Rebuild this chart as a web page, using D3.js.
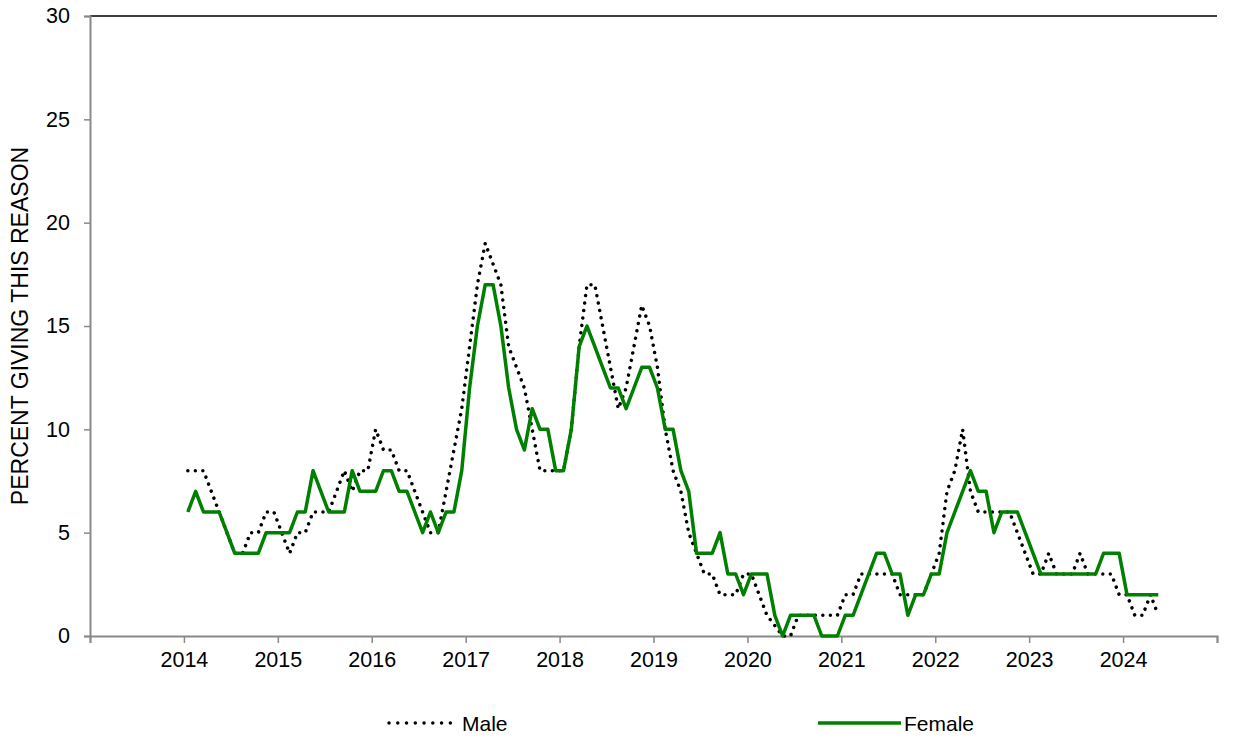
<!DOCTYPE html>
<html>
<head>
<meta charset="utf-8">
<script src="https://cdn.jsdelivr.net/npm/d3@7"></script>
<style>
  html, body { margin: 0; padding: 0; background: #fff; }
  svg { display: block; font-family: "Liberation Sans", Arial, sans-serif; }
</style>
</head>
<body>
<svg id="chart" width="1246" height="742"></svg>
<script>
// ---- data (monthly, Jan 2014 .. May 2024) ----
const startYear = 2014;
const yearTicks = [2013, 2014, 2015, 2016, 2017, 2018, 2019, 2020, 2021, 2022, 2023, 2024, 2025];
const yearLabels = ["", "2014", "2015", "2016", "2017", "2018", "2019", "2020", "2021", "2022", "2023", "2024", ""];
const yTicks = [0, 5, 10, 15, 20, 25, 30];
const seriesNames = ["Male", "Female"];
const maleValues = [
  8,8,8,7,6,5,4,4,5,5,6,6,
  5,4,5,5,6,6,6,7,8,7,8,8,
  10,9,9,8,8,7,6,5,5,7,9,11,
  14,17,19,18,17,14,13,12,10,8,8,8,
  8,10,14,17,17,15,13,11,12,14,16,15,
  13,10,8,7,5,4,3,3,2,2,2,3,
  3,2,1,0.5,0,0,1,1,1,1,1,1,
  2,2,3,3,3,3,3,2,2,2,2,3,
  4,7,8,10,7,6,6,6,6,6,5,4,
  3,3,4,3,3,3,4,3,3,3,3,2,
  2,1,1,2,1
];
const femaleValues = [
  6,7,6,6,6,5,4,4,4,4,5,5,
  5,5,6,6,8,7,6,6,6,8,7,7,
  7,8,8,7,7,6,5,6,5,6,6,8,
  12,15,17,17,15,12,10,9,11,10,10,8,
  8,10,14,15,14,13,12,12,11,12,13,13,
  12,10,10,8,7,4,4,4,5,3,3,2,
  3,3,3,1,0,1,1,1,1,0,0,0,
  1,1,2,3,4,4,3,3,1,2,2,3,
  3,5,6,7,8,7,7,5,6,6,6,5,
  4,3,3,3,3,3,3,3,3,4,4,4,
  2,2,2,2,2
];
const yTitle = "PERCENT GIVING THIS REASON";

(function draw() {
  const svg = d3.select("#chart");
  const pL = 90, pR = 1217, pT = 16, pB = 636;
  const FONT = "Liberation Sans, Arial, sans-serif";

  const x = d3.scaleLinear().domain([2013, 2025]).range([pL, pR]);
  const y = d3.scaleLinear().domain([0, 30]).range([pB, pT]);

  // time position of each monthly point (middle of month)
  const tm = i => startYear + (i + 0.5) / 12;

  // top border
  svg.append("line")
    .attr("x1", pL).attr("x2", pR)
    .attr("y1", y(30)).attr("y2", y(30))
    .attr("stroke", "#000").attr("stroke-width", 1.3);

  // y axis
  const yAxis = d3.axisLeft(y).tickValues(yTicks).tickSize(6).tickPadding(14).tickFormat(d3.format("d"));
  const gy = svg.append("g").attr("transform", `translate(${pL},0)`).call(yAxis);
  gy.select(".domain").attr("stroke", "#898989").attr("stroke-width", 2);
  gy.selectAll(".tick line").attr("stroke", "#898989").attr("stroke-width", 1.5);
  gy.selectAll(".tick text").attr("font-size", 21.5).attr("fill", "#000").attr("font-family", FONT);

  // x axis
  const xAxis = d3.axisBottom(x).tickValues(yearTicks).tickSize(7).tickPadding(9)
    .tickFormat((d, i) => yearLabels[i]);
  const gx = svg.append("g").attr("transform", `translate(0,${pB})`).call(xAxis);
  gx.select(".domain").attr("stroke", "#898989").attr("stroke-width", 2);
  gx.selectAll(".tick line").attr("stroke", "#898989").attr("stroke-width", 1.5);
  gx.selectAll(".tick text").attr("font-size", 21.5).attr("fill", "#000").attr("font-family", FONT);

  // y title
  svg.append("text")
    .attr("transform", `translate(28,${(pT + pB) / 2}) rotate(-90)`)
    .attr("text-anchor", "middle")
    .attr("font-size", 23)
    .attr("fill", "#000")
    .attr("font-family", FONT)
    .text(yTitle);

  // lines
  const line = d3.line().x(d => x(d.t)).y(d => y(d.v));
  const maleData = maleValues.map((v, i) => ({ t: tm(i), v }));
  const femaleData = femaleValues.map((v, i) => ({ t: tm(i), v }));

  const plot = svg.append("g");
  plot.append("path").datum(maleData)
    .attr("d", line).attr("fill", "none")
    .attr("stroke", "#000").attr("stroke-width", 3.5)
    .attr("stroke-linecap", "round").attr("stroke-linejoin", "round")
    .attr("stroke-dasharray", "0.01 7.5");
  plot.append("path").datum(femaleData)
    .attr("d", line).attr("fill", "none")
    .attr("stroke", "#008000").attr("stroke-width", 3.5)
    .attr("stroke-linejoin", "round");

  // legend
  const legend = svg.append("g");
  const legItems = [
    { name: seriesNames[0], x1: 389, x2: 459, dotted: true, color: "#000" },
    { name: seriesNames[1], x1: 818, x2: 901, dotted: false, color: "#008000" }
  ];
  legItems.forEach(it => {
    const l = legend.append("line")
      .attr("x1", it.x1).attr("x2", it.x2).attr("y1", 723).attr("y2", 723)
      .attr("stroke", it.color).attr("stroke-width", 3.5);
    if (it.dotted) l.attr("stroke-dasharray", "0.01 8.75").attr("stroke-linecap", "round");
    legend.append("text").attr("x", it.x2 + 3).attr("y", 731)
      .attr("font-size", 21).attr("fill", "#000").attr("font-family", FONT).text(it.name);
  });
})();
</script>
</body>
</html>
